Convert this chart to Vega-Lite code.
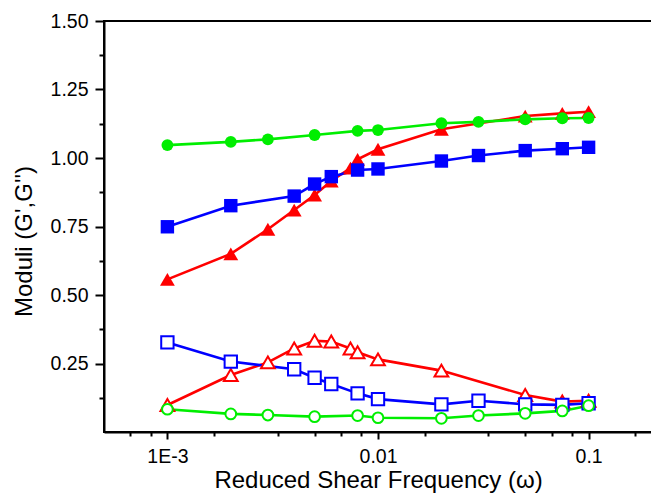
{
  "$schema": "https://vega.github.io/schema/vega-lite/v6.json",
  "width": 548,
  "height": 411,
  "autosize": {"type": "none"},
  "padding": {"left": 104, "top": 21, "right": 0, "bottom": 62},
  "background": "white",
  "config": {
    "font": "Liberation Sans",
    "view": {"stroke": "#000000", "strokeWidth": 2},
    "axis": {
      "grid": false,
      "domainColor": "#000000",
      "domainWidth": 2,
      "tickColor": "#000000",
      "tickWidth": 2,
      "labelColor": "#000000",
      "labelFontSize": 19.5,
      "labelFont": "Liberation Sans",
      "titleFont": "Liberation Sans",
      "titleColor": "#000000",
      "titleFontWeight": "normal",
      "labelFlush": false,
      "labelOverlap": false
    }
  },
  "data": {
    "values": [
      {"x": 0.001, "y": 0.557, "s": "red", "m": "Gp"},
      {"x": 0.002, "y": 0.650, "s": "red", "m": "Gp"},
      {"x": 0.003, "y": 0.740, "s": "red", "m": "Gp"},
      {"x": 0.004, "y": 0.810, "s": "red", "m": "Gp"},
      {"x": 0.005, "y": 0.865, "s": "red", "m": "Gp"},
      {"x": 0.006, "y": 0.916, "s": "red", "m": "Gp"},
      {"x": 0.0074, "y": 0.963, "s": "red", "m": "Gp"},
      {"x": 0.008, "y": 0.995, "s": "red", "m": "Gp"},
      {"x": 0.01, "y": 1.032, "s": "red", "m": "Gp"},
      {"x": 0.02, "y": 1.105, "s": "red", "m": "Gp"},
      {"x": 0.05, "y": 1.153, "s": "red", "m": "Gp"},
      {"x": 0.075, "y": 1.163, "s": "red", "m": "Gp"},
      {"x": 0.1, "y": 1.169, "s": "red", "m": "Gp"},
      {"x": 0.001, "y": 0.0985, "s": "red", "m": "Gpp"},
      {"x": 0.002, "y": 0.208, "s": "red", "m": "Gpp"},
      {"x": 0.003, "y": 0.254, "s": "red", "m": "Gpp"},
      {"x": 0.004, "y": 0.305, "s": "red", "m": "Gpp"},
      {"x": 0.005, "y": 0.333, "s": "red", "m": "Gpp"},
      {"x": 0.006, "y": 0.330, "s": "red", "m": "Gpp"},
      {"x": 0.0074, "y": 0.305, "s": "red", "m": "Gpp"},
      {"x": 0.008, "y": 0.291, "s": "red", "m": "Gpp"},
      {"x": 0.01, "y": 0.265, "s": "red", "m": "Gpp"},
      {"x": 0.02, "y": 0.224, "s": "red", "m": "Gpp"},
      {"x": 0.05, "y": 0.135, "s": "red", "m": "Gpp"},
      {"x": 0.075, "y": 0.111, "s": "red", "m": "Gpp"},
      {"x": 0.1, "y": 0.114, "s": "red", "m": "Gpp"},
      {"x": 0.001, "y": 0.749, "s": "blue", "m": "Gp"},
      {"x": 0.002, "y": 0.826, "s": "blue", "m": "Gp"},
      {"x": 0.004, "y": 0.861, "s": "blue", "m": "Gp"},
      {"x": 0.005, "y": 0.905, "s": "blue", "m": "Gp"},
      {"x": 0.006, "y": 0.932, "s": "blue", "m": "Gp"},
      {"x": 0.008, "y": 0.956, "s": "blue", "m": "Gp"},
      {"x": 0.01, "y": 0.960, "s": "blue", "m": "Gp"},
      {"x": 0.02, "y": 0.989, "s": "blue", "m": "Gp"},
      {"x": 0.03, "y": 1.009, "s": "blue", "m": "Gp"},
      {"x": 0.05, "y": 1.027, "s": "blue", "m": "Gp"},
      {"x": 0.075, "y": 1.034, "s": "blue", "m": "Gp"},
      {"x": 0.1, "y": 1.039, "s": "blue", "m": "Gp"},
      {"x": 0.001, "y": 0.327, "s": "blue", "m": "Gpp"},
      {"x": 0.002, "y": 0.257, "s": "blue", "m": "Gpp"},
      {"x": 0.004, "y": 0.229, "s": "blue", "m": "Gpp"},
      {"x": 0.005, "y": 0.198, "s": "blue", "m": "Gpp"},
      {"x": 0.006, "y": 0.175, "s": "blue", "m": "Gpp"},
      {"x": 0.008, "y": 0.141, "s": "blue", "m": "Gpp"},
      {"x": 0.01, "y": 0.120, "s": "blue", "m": "Gpp"},
      {"x": 0.02, "y": 0.101, "s": "blue", "m": "Gpp"},
      {"x": 0.03, "y": 0.114, "s": "blue", "m": "Gpp"},
      {"x": 0.05, "y": 0.101, "s": "blue", "m": "Gpp"},
      {"x": 0.075, "y": 0.099, "s": "blue", "m": "Gpp"},
      {"x": 0.1, "y": 0.105, "s": "blue", "m": "Gpp"},
      {"x": 0.001, "y": 1.047, "s": "green", "m": "Gp"},
      {"x": 0.002, "y": 1.059, "s": "green", "m": "Gp"},
      {"x": 0.003, "y": 1.068, "s": "green", "m": "Gp"},
      {"x": 0.005, "y": 1.084, "s": "green", "m": "Gp"},
      {"x": 0.008, "y": 1.099, "s": "green", "m": "Gp"},
      {"x": 0.01, "y": 1.102, "s": "green", "m": "Gp"},
      {"x": 0.02, "y": 1.127, "s": "green", "m": "Gp"},
      {"x": 0.03, "y": 1.132, "s": "green", "m": "Gp"},
      {"x": 0.05, "y": 1.141, "s": "green", "m": "Gp"},
      {"x": 0.075, "y": 1.145, "s": "green", "m": "Gp"},
      {"x": 0.1, "y": 1.146, "s": "green", "m": "Gp"},
      {"x": 0.001, "y": 0.083, "s": "green", "m": "Gpp"},
      {"x": 0.002, "y": 0.066, "s": "green", "m": "Gpp"},
      {"x": 0.003, "y": 0.062, "s": "green", "m": "Gpp"},
      {"x": 0.005, "y": 0.056, "s": "green", "m": "Gpp"},
      {"x": 0.008, "y": 0.060, "s": "green", "m": "Gpp"},
      {"x": 0.01, "y": 0.052, "s": "green", "m": "Gpp"},
      {"x": 0.02, "y": 0.050, "s": "green", "m": "Gpp"},
      {"x": 0.03, "y": 0.060, "s": "green", "m": "Gpp"},
      {"x": 0.05, "y": 0.068, "s": "green", "m": "Gpp"},
      {"x": 0.075, "y": 0.077, "s": "green", "m": "Gpp"},
      {"x": 0.1, "y": 0.096, "s": "green", "m": "Gpp"}
    ]
  },
  "layer": [
    {
      "mark": {"type": "line", "strokeWidth": 2.6},
      "encoding": {
        "x": {
          "field": "x", "type": "quantitative",
          "scale": {"type": "log", "domain": [0.0005, 0.2]},
          "axis": {
            "orient": "bottom",
            "values": [0.001, 0.01, 0.1],
            "labelExpr": "datum.value < 0.005 ? '1E-3' : (datum.value < 0.05 ? '0.01' : '0.1')",
            "tickSize": 7,
            "labelPadding": 8,
            "title": "Reduced Shear Frequency (ω)",
            "titleFontSize": 24,
            "titlePadding": 3
          }
        },
        "y": {
          "field": "y", "type": "quantitative",
          "scale": {"domain": [0, 1.5]},
          "axis": {
            "orient": "left",
            "values": [0.25, 0.5, 0.75, 1.0, 1.25, 1.5],
            "format": ".2f",
            "tickSize": 9,
            "labelPadding": 7,
            "title": "Moduli (G',G'')",
            "titleFontSize": 24,
            "titleAngle": -90,
            "titleBaseline": "bottom",
            "titleAlign": "center",
            "titleX": -68,
            "titleY": 220
          }
        },
        "color": {"field": "s", "type": "nominal", "scale": {"domain": ["red", "blue", "green"], "range": ["#FF0000", "#0000FF", "#00EE00"]}, "legend": null},
        "detail": {"field": "m", "type": "nominal"}
      }
    },
    {
      "transform": [{"filter": "datum.m == 'Gp'"}],
      "mark": {"type": "point", "filled": true, "opacity": 1},
      "encoding": {
        "x": {
          "field": "x", "type": "quantitative",
          "scale": {"type": "log", "domain": [0.0005, 0.2]},
          "axis": {
            "orient": "bottom",
            "values": [0.000667, 0.000833, 0.001667, 0.003333, 0.005, 0.006667, 0.008333, 0.016667, 0.033333, 0.05, 0.066667, 0.083333, 0.166667],
            "labels": false,
            "domain": false,
            "tickSize": 4,
            "title": null
          }
        },
        "y": {
          "field": "y", "type": "quantitative",
          "scale": {"domain": [0, 1.5]},
          "axis": {
            "orient": "left",
            "values": [0.125, 0.375, 0.625, 0.875, 1.125, 1.375],
            "labels": false,
            "domain": false,
            "tickSize": 5,
            "title": null
          }
        },
        "color": {"field": "s", "type": "nominal", "scale": {"domain": ["red", "blue", "green"], "range": ["#FF0000", "#0000FF", "#00EE00"]}, "legend": null},
        "shape": {"field": "s", "type": "nominal", "scale": {"domain": ["red", "blue", "green"], "range": ["triangle-up", "square", "circle"]}, "legend": null},
        "size": {"field": "s", "type": "nominal", "scale": {"domain": ["red", "blue", "green"], "range": [220, 140, 150]}, "legend": null}
      }
    },
    {
      "transform": [{"filter": "datum.m == 'Gpp'"}],
      "mark": {"type": "point", "filled": false, "fill": "white", "fillOpacity": 1, "strokeWidth": 2, "opacity": 1},
      "encoding": {
        "x": {"field": "x", "type": "quantitative", "scale": {"type": "log", "domain": [0.0005, 0.2]}, "axis": null},
        "y": {"field": "y", "type": "quantitative", "scale": {"domain": [0, 1.5]}, "axis": null},
        "color": {"field": "s", "type": "nominal", "scale": {"domain": ["red", "blue", "green"], "range": ["#FF0000", "#0000FF", "#00EE00"]}, "legend": null},
        "shape": {"field": "s", "type": "nominal", "scale": {"domain": ["red", "blue", "green"], "range": ["triangle-up", "square", "circle"]}, "legend": null},
        "size": {"field": "s", "type": "nominal", "scale": {"domain": ["red", "blue", "green"], "range": [190, 115, 120]}, "legend": null}
      }
    }
  ],
  "resolve": {"axis": {"x": "independent", "y": "independent"}, "scale": {"size": "independent"}}
}
